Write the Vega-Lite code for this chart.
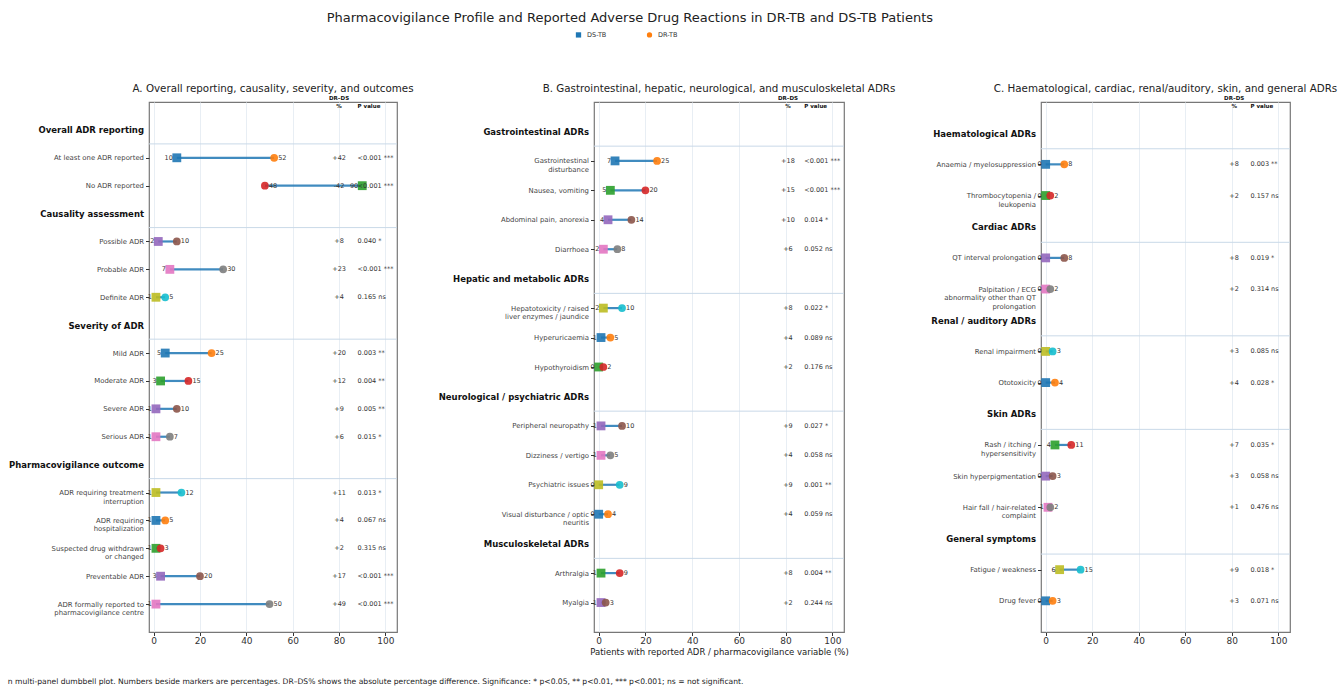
{
  "$schema": "https://vega.github.io/schema/vega-lite/v6.json",
  "background": "white",
  "padding": {"left": 7, "top": 12, "right": 0, "bottom": 0},
  "config": {
    "font": "DejaVu Sans",
    "view": {"stroke": "#777", "strokeWidth": 1.2},
    "title": {"fontWeight": "normal", "color": "#222"}
  },
  "title": {"text": "Pharmacovigilance Profile and Reported Adverse Drug Reactions in DR-TB and DS-TB Patients", "fontSize": 13, "anchor": "middle", "dx": -43, "offset": 6},
  "datasets": {
    "A": [
      {"kind": "h", "label": "Overall ADR reporting"},
      {"kind": "i", "label": "At least one ADR reported", "ds": 10, "dr": 52, "diff": "+42", "p": "<0.001 ***"},
      {"kind": "i", "label": "No ADR reported", "ds": 90, "dr": 48, "diff": "-42", "p": "<0.001 ***"},
      {"kind": "h", "label": "Causality assessment"},
      {"kind": "i", "label": "Possible ADR", "ds": 2, "dr": 10, "diff": "+8", "p": "0.040 *"},
      {"kind": "i", "label": "Probable ADR", "ds": 7, "dr": 30, "diff": "+23", "p": "<0.001 ***"},
      {"kind": "i", "label": "Definite ADR", "ds": 1, "dr": 5, "diff": "+4", "p": "0.165 ns"},
      {"kind": "h", "label": "Severity of ADR"},
      {"kind": "i", "label": "Mild ADR", "ds": 5, "dr": 25, "diff": "+20", "p": "0.003 **"},
      {"kind": "i", "label": "Moderate ADR", "ds": 3, "dr": 15, "diff": "+12", "p": "0.004 **"},
      {"kind": "i", "label": "Severe ADR", "ds": 1, "dr": 10, "diff": "+9", "p": "0.005 **"},
      {"kind": "i", "label": "Serious ADR", "ds": 1, "dr": 7, "diff": "+6", "p": "0.015 *"},
      {"kind": "h", "label": "Pharmacovigilance outcome"},
      {"kind": "i", "label": "ADR requiring treatment\ninterruption", "ds": 1, "dr": 12, "diff": "+11", "p": "0.013 *"},
      {"kind": "i", "label": "ADR requiring\nhospitalization", "ds": 1, "dr": 5, "diff": "+4", "p": "0.067 ns"},
      {"kind": "i", "label": "Suspected drug withdrawn\nor changed", "ds": 1, "dr": 3, "diff": "+2", "p": "0.315 ns"},
      {"kind": "i", "label": "Preventable ADR", "ds": 3, "dr": 20, "diff": "+17", "p": "<0.001 ***"},
      {"kind": "i", "label": "ADR formally reported to\npharmacovigilance centre", "ds": 1, "dr": 50, "diff": "+49", "p": "<0.001 ***"}
    ],
    "B": [
      {"kind": "h", "label": "Gastrointestinal ADRs"},
      {"kind": "i", "label": "Gastrointestinal\ndisturbance", "ds": 7, "dr": 25, "diff": "+18", "p": "<0.001 ***"},
      {"kind": "i", "label": "Nausea, vomiting", "ds": 5, "dr": 20, "diff": "+15", "p": "<0.001 ***"},
      {"kind": "i", "label": "Abdominal pain, anorexia", "ds": 4, "dr": 14, "diff": "+10", "p": "0.014 *"},
      {"kind": "i", "label": "Diarrhoea", "ds": 2, "dr": 8, "diff": "+6", "p": "0.052 ns"},
      {"kind": "h", "label": "Hepatic and metabolic ADRs"},
      {"kind": "i", "label": "Hepatotoxicity / raised\nliver enzymes / jaundice", "ds": 2, "dr": 10, "diff": "+8", "p": "0.022 *"},
      {"kind": "i", "label": "Hyperuricaemia", "ds": 1, "dr": 5, "diff": "+4", "p": "0.089 ns"},
      {"kind": "i", "label": "Hypothyroidism", "ds": 0, "dr": 2, "diff": "+2", "p": "0.176 ns"},
      {"kind": "h", "label": "Neurological / psychiatric ADRs"},
      {"kind": "i", "label": "Peripheral neuropathy", "ds": 1, "dr": 10, "diff": "+9", "p": "0.027 *"},
      {"kind": "i", "label": "Dizziness / vertigo", "ds": 1, "dr": 5, "diff": "+4", "p": "0.058 ns"},
      {"kind": "i", "label": "Psychiatric issues", "ds": 0, "dr": 9, "diff": "+9", "p": "0.001 **"},
      {"kind": "i", "label": "Visual disturbance / optic\nneuritis", "ds": 0, "dr": 4, "diff": "+4", "p": "0.059 ns"},
      {"kind": "h", "label": "Musculoskeletal ADRs"},
      {"kind": "i", "label": "Arthralgia", "ds": 1, "dr": 9, "diff": "+8", "p": "0.004 **"},
      {"kind": "i", "label": "Myalgia", "ds": 1, "dr": 3, "diff": "+2", "p": "0.244 ns"}
    ],
    "C": [
      {"kind": "h", "label": "Haematological ADRs"},
      {"kind": "i", "label": "Anaemia / myelosuppression", "ds": 0, "dr": 8, "diff": "+8", "p": "0.003 **"},
      {"kind": "i", "label": "Thrombocytopenia /\nleukopenia", "ds": 0, "dr": 2, "diff": "+2", "p": "0.157 ns"},
      {"kind": "h", "label": "Cardiac ADRs"},
      {"kind": "i", "label": "QT interval prolongation", "ds": 0, "dr": 8, "diff": "+8", "p": "0.019 *"},
      {"kind": "i", "label": "Palpitation / ECG\nabnormality other than QT\nprolongation", "ds": 0, "dr": 2, "diff": "+2", "p": "0.314 ns"},
      {"kind": "h", "label": "Renal / auditory ADRs"},
      {"kind": "i", "label": "Renal impairment", "ds": 0, "dr": 3, "diff": "+3", "p": "0.085 ns"},
      {"kind": "i", "label": "Ototoxicity", "ds": 0, "dr": 4, "diff": "+4", "p": "0.028 *"},
      {"kind": "h", "label": "Skin ADRs"},
      {"kind": "i", "label": "Rash / itching /\nhypersensitivity", "ds": 4, "dr": 11, "diff": "+7", "p": "0.035 *"},
      {"kind": "i", "label": "Skin hyperpigmentation", "ds": 0, "dr": 3, "diff": "+3", "p": "0.058 ns"},
      {"kind": "i", "label": "Hair fall / hair-related\ncomplaint", "ds": 1, "dr": 2, "diff": "+1", "p": "0.476 ns"},
      {"kind": "h", "label": "General symptoms"},
      {"kind": "i", "label": "Fatigue / weakness", "ds": 6, "dr": 15, "diff": "+9", "p": "0.018 *"},
      {"kind": "i", "label": "Drug fever", "ds": 0, "dr": 3, "diff": "+3", "p": "0.071 ns"}
    ],
    "groups": [{"g": "DS-TB"}, {"g": "DR-TB"}]
  },
  "resolve": {"scale": {"fill": "independent", "stroke": "independent"}},
  "vconcat": [
    {
      "spacing": 197,
      "bounds": "flush",
      "resolve": {"scale": {"fill": "independent", "stroke": "independent"}},
      "title": {"text": "n multi-panel dumbbell plot. Numbers beside markers are percentages. DR\u2013DS% shows the absolute percentage difference. Significance: * p<0.05, ** p<0.01, *** p<0.001; ns = not significant.", "orient": "bottom", "anchor": "start", "fontSize": 7.6, "color": "#222", "offset": 21},
      "hconcat": [
        {
          "width": 248, "height": 530,
          "title": {"text": "A. Overall reporting, causality, severity, and outcomes", "fontSize": 10.3, "anchor": "middle", "offset": 2},
          "data": {"name": "A"},
          "encoding": {
            "y": {"field": "label", "type": "nominal",
              "scale": {"type": "point", "padding": 0, "domain": ["_top", "Overall ADR reporting", "At least one ADR reported", "No ADR reported", "Causality assessment", "Possible ADR", "Probable ADR", "Definite ADR", "Severity of ADR", "Mild ADR", "Moderate ADR", "Severe ADR", "Serious ADR", "Pharmacovigilance outcome", "ADR requiring treatment\ninterruption", "ADR requiring\nhospitalization", "Suspected drug withdrawn\nor changed", "Preventable ADR", "ADR formally reported to\npharmacovigilance centre", "_bot"]},
              "axis": {"title": null, "domain": false, "grid": false, "labelOverlap": false, "labelLimit": 300, "tickSize": 3.5, "tickColor": "#333", "labelPadding": 2, "labelLineHeight": 8.5,
                "labelExpr": "datum.value == '_top' || datum.value == '_bot' ? '' : split(datum.value, '\\n')",
                "labelFontSize": {"condition": {"test": "indexof(['Overall ADR reporting','Causality assessment','Severity of ADR','Pharmacovigilance outcome','Gastrointestinal ADRs','Hepatic and metabolic ADRs','Neurological / psychiatric ADRs','Musculoskeletal ADRs','Haematological ADRs','Cardiac ADRs','Renal / auditory ADRs','Skin ADRs','General symptoms'], datum.value) >= 0", "value": 8.5}, "value": 6.9},
                "labelFontWeight": {"condition": {"test": "indexof(['Overall ADR reporting','Causality assessment','Severity of ADR','Pharmacovigilance outcome','Gastrointestinal ADRs','Hepatic and metabolic ADRs','Neurological / psychiatric ADRs','Musculoskeletal ADRs','Haematological ADRs','Cardiac ADRs','Renal / auditory ADRs','Skin ADRs','General symptoms'], datum.value) >= 0", "value": "bold"}, "value": "normal"},
                "labelColor": {"condition": {"test": "indexof(['Overall ADR reporting','Causality assessment','Severity of ADR','Pharmacovigilance outcome','Gastrointestinal ADRs','Hepatic and metabolic ADRs','Neurological / psychiatric ADRs','Musculoskeletal ADRs','Haematological ADRs','Cardiac ADRs','Renal / auditory ADRs','Skin ADRs','General symptoms'], datum.value) >= 0", "value": "#111"}, "value": "#444"},
                "tickOpacity": {"condition": {"test": "indexof(['_top','_bot','Overall ADR reporting','Causality assessment','Severity of ADR','Pharmacovigilance outcome','Gastrointestinal ADRs','Hepatic and metabolic ADRs','Neurological / psychiatric ADRs','Musculoskeletal ADRs','Haematological ADRs','Cardiac ADRs','Renal / auditory ADRs','Skin ADRs','General symptoms'], datum.value) >= 0", "value": 0}, "value": 1}
              }
            }
          },
          "layer": [
            {"transform": [{"filter": "datum.kind == 'h'"}], "mark": {"type": "rule", "color": "#c9d9e8", "strokeWidth": 1, "yOffset": 14}, "encoding": {}},
            {"transform": [{"filter": "datum.kind == 'i'"}], "mark": {"type": "rule", "color": "#1f77b4", "strokeWidth": 2.2, "opacity": 0.85},
              "encoding": {"x": {"field": "ds", "type": "quantitative", "scale": {"domain": [-2, 105], "nice": false, "zero": false}, "axis": {"values": [0, 20, 40, 60, 80, 100], "grid": true, "gridColor": "#e8eef4", "domain": false, "title": null, "labelFontSize": 9, "labelColor": "#333", "labelPadding": 1, "tickSize": 3.5, "tickColor": "#333"}}, "x2": {"field": "dr"}}},
            {"data": {"name": "groups"}, "mark": {"type": "point", "filled": true, "size": 30, "opacity": 0},
              "encoding": {"x": {"datum": 0, "type": "quantitative"}, "y": {"datum": "_top", "type": "nominal"},
                "color": {"field": "g", "type": "nominal", "scale": {"domain": ["DS-TB", "DR-TB"], "range": ["#1f77b4", "#ff7f0e"]},
                  "legend": {"title": null, "orient": "none", "legendX": 426, "legendY": -71, "direction": "horizontal", "labelFontSize": 6.5, "labelColor": "#333", "symbolSize": 28, "symbolOpacity": 1, "columnPadding": 36, "labelOffset": 5}},
                "shape": {"field": "g", "type": "nominal", "scale": {"domain": ["DS-TB", "DR-TB"], "range": ["square", "circle"]},
                  "legend": {"title": null, "orient": "none", "legendX": 426, "legendY": -71, "direction": "horizontal", "labelFontSize": 6.5, "labelColor": "#333", "symbolSize": 28, "symbolOpacity": 1, "columnPadding": 36, "labelOffset": 5}}}},
            {"transform": [{"filter": "datum.kind == 'i'"}], "mark": {"type": "point", "shape": "square", "filled": true, "size": 78, "opacity": 0.9},
              "encoding": {"x": {"field": "ds", "type": "quantitative"}, "fill": {"field": "label", "type": "nominal", "sort": null, "scale": {"range": ["#1f77b4", "#2ca02c", "#9467bd", "#e377c2", "#bcbd22"]}, "legend": null}}},
            {"transform": [{"filter": "datum.kind == 'i'"}], "mark": {"type": "point", "shape": "circle", "filled": false, "size": 14, "strokeWidth": 4, "opacity": 0.9},
              "encoding": {"x": {"field": "dr", "type": "quantitative"}, "stroke": {"field": "label", "type": "nominal", "sort": null, "scale": {"range": ["#ff7f0e", "#d62728", "#8c564b", "#7f7f7f", "#17becf"]}, "legend": null}}},
            {"transform": [{"filter": "datum.kind == 'i'"}], "mark": {"type": "text", "align": "right", "baseline": "middle", "dx": -4, "fontSize": 6.5, "color": "#333"},
              "encoding": {"x": {"field": "ds", "type": "quantitative"}, "text": {"field": "ds", "type": "quantitative"}}},
            {"transform": [{"filter": "datum.kind == 'i'"}], "mark": {"type": "text", "align": "left", "baseline": "middle", "dx": 4, "fontSize": 6.5, "color": "#333"},
              "encoding": {"x": {"field": "dr", "type": "quantitative"}, "text": {"field": "dr", "type": "quantitative"}}},
            {"transform": [{"filter": "datum.kind == 'i'"}], "mark": {"type": "text", "align": "center", "baseline": "middle", "fontSize": 6.5, "color": "#333"},
              "encoding": {"x": {"datum": 80, "type": "quantitative"}, "text": {"field": "diff", "type": "nominal"}}},
            {"transform": [{"filter": "datum.kind == 'i'"}], "mark": {"type": "text", "align": "left", "baseline": "middle", "fontSize": 6.5, "color": "#333"},
              "encoding": {"x": {"datum": 88, "type": "quantitative"}, "text": {"field": "p", "type": "nominal"}}},
            {"data": {"values": [{}]}, "mark": {"type": "text", "text": "DR\u2013DS", "align": "center", "baseline": "middle", "dy": -4, "fontSize": 5.5, "fontWeight": "bold", "color": "#111"},
              "encoding": {"x": {"datum": 80, "type": "quantitative"}, "y": {"datum": "_top", "type": "nominal"}}},
            {"data": {"values": [{}]}, "mark": {"type": "text", "text": "%", "align": "center", "baseline": "middle", "dy": 4, "fontSize": 5.5, "fontWeight": "bold", "color": "#111"},
              "encoding": {"x": {"datum": 80, "type": "quantitative"}, "y": {"datum": "_top", "type": "nominal"}}},
            {"data": {"values": [{}]}, "mark": {"type": "text", "text": "P value", "align": "left", "baseline": "middle", "dy": 4, "fontSize": 5.5, "fontWeight": "bold", "color": "#111"},
              "encoding": {"x": {"datum": 88, "type": "quantitative"}, "y": {"datum": "_top", "type": "nominal"}}}
          ]
        },
        {
          "width": 250, "height": 530,
          "title": {"text": "B. Gastrointestinal, hepatic, neurological, and musculoskeletal ADRs", "fontSize": 10.3, "anchor": "middle", "offset": 2},
          "data": {"name": "B"},
          "encoding": {
            "y": {"field": "label", "type": "nominal",
              "scale": {"type": "point", "padding": 0, "domain": ["_top", "Gastrointestinal ADRs", "Gastrointestinal\ndisturbance", "Nausea, vomiting", "Abdominal pain, anorexia", "Diarrhoea", "Hepatic and metabolic ADRs", "Hepatotoxicity / raised\nliver enzymes / jaundice", "Hyperuricaemia", "Hypothyroidism", "Neurological / psychiatric ADRs", "Peripheral neuropathy", "Dizziness / vertigo", "Psychiatric issues", "Visual disturbance / optic\nneuritis", "Musculoskeletal ADRs", "Arthralgia", "Myalgia", "_bot"]},
              "axis": {"title": null, "domain": false, "grid": false, "labelOverlap": false, "labelLimit": 300, "tickSize": 3.5, "tickColor": "#333", "labelPadding": 2, "labelLineHeight": 8.5,
                "labelExpr": "datum.value == '_top' || datum.value == '_bot' ? '' : split(datum.value, '\\n')",
                "labelFontSize": {"condition": {"test": "indexof(['Overall ADR reporting','Causality assessment','Severity of ADR','Pharmacovigilance outcome','Gastrointestinal ADRs','Hepatic and metabolic ADRs','Neurological / psychiatric ADRs','Musculoskeletal ADRs','Haematological ADRs','Cardiac ADRs','Renal / auditory ADRs','Skin ADRs','General symptoms'], datum.value) >= 0", "value": 8.5}, "value": 6.9},
                "labelFontWeight": {"condition": {"test": "indexof(['Overall ADR reporting','Causality assessment','Severity of ADR','Pharmacovigilance outcome','Gastrointestinal ADRs','Hepatic and metabolic ADRs','Neurological / psychiatric ADRs','Musculoskeletal ADRs','Haematological ADRs','Cardiac ADRs','Renal / auditory ADRs','Skin ADRs','General symptoms'], datum.value) >= 0", "value": "bold"}, "value": "normal"},
                "labelColor": {"condition": {"test": "indexof(['Overall ADR reporting','Causality assessment','Severity of ADR','Pharmacovigilance outcome','Gastrointestinal ADRs','Hepatic and metabolic ADRs','Neurological / psychiatric ADRs','Musculoskeletal ADRs','Haematological ADRs','Cardiac ADRs','Renal / auditory ADRs','Skin ADRs','General symptoms'], datum.value) >= 0", "value": "#111"}, "value": "#444"},
                "tickOpacity": {"condition": {"test": "indexof(['_top','_bot','Overall ADR reporting','Causality assessment','Severity of ADR','Pharmacovigilance outcome','Gastrointestinal ADRs','Hepatic and metabolic ADRs','Neurological / psychiatric ADRs','Musculoskeletal ADRs','Haematological ADRs','Cardiac ADRs','Renal / auditory ADRs','Skin ADRs','General symptoms'], datum.value) >= 0", "value": 0}, "value": 1}
              }
            }
          },
          "layer": [
            {"transform": [{"filter": "datum.kind == 'h'"}], "mark": {"type": "rule", "color": "#c9d9e8", "strokeWidth": 1, "yOffset": 14.7}, "encoding": {}},
            {"transform": [{"filter": "datum.kind == 'i'"}], "mark": {"type": "rule", "color": "#1f77b4", "strokeWidth": 2.2, "opacity": 0.85},
              "encoding": {"x": {"field": "ds", "type": "quantitative", "scale": {"domain": [-2, 105], "nice": false, "zero": false}, "axis": {"values": [0, 20, 40, 60, 80, 100], "grid": true, "gridColor": "#e8eef4", "domain": false, "title": "Patients with reported ADR / pharmacovigilance variable (%)", "titleFontSize": 8.5, "titleFontWeight": "normal", "titleColor": "#222", "titlePadding": 2, "labelFontSize": 9, "labelColor": "#333", "labelPadding": 1, "tickSize": 3.5, "tickColor": "#333"}}, "x2": {"field": "dr"}}},
            {"transform": [{"filter": "datum.kind == 'i'"}], "mark": {"type": "point", "shape": "square", "filled": true, "size": 78, "opacity": 0.9},
              "encoding": {"x": {"field": "ds", "type": "quantitative"}, "fill": {"field": "label", "type": "nominal", "sort": null, "scale": {"range": ["#1f77b4", "#2ca02c", "#9467bd", "#e377c2", "#bcbd22"]}, "legend": null}}},
            {"transform": [{"filter": "datum.kind == 'i'"}], "mark": {"type": "point", "shape": "circle", "filled": false, "size": 14, "strokeWidth": 4, "opacity": 0.9},
              "encoding": {"x": {"field": "dr", "type": "quantitative"}, "stroke": {"field": "label", "type": "nominal", "sort": null, "scale": {"range": ["#ff7f0e", "#d62728", "#8c564b", "#7f7f7f", "#17becf"]}, "legend": null}}},
            {"transform": [{"filter": "datum.kind == 'i'"}], "mark": {"type": "text", "align": "right", "baseline": "middle", "dx": -4, "fontSize": 6.5, "color": "#333"},
              "encoding": {"x": {"field": "ds", "type": "quantitative"}, "text": {"field": "ds", "type": "quantitative"}}},
            {"transform": [{"filter": "datum.kind == 'i'"}], "mark": {"type": "text", "align": "left", "baseline": "middle", "dx": 4, "fontSize": 6.5, "color": "#333"},
              "encoding": {"x": {"field": "dr", "type": "quantitative"}, "text": {"field": "dr", "type": "quantitative"}}},
            {"transform": [{"filter": "datum.kind == 'i'"}], "mark": {"type": "text", "align": "center", "baseline": "middle", "fontSize": 6.5, "color": "#333"},
              "encoding": {"x": {"datum": 81, "type": "quantitative"}, "text": {"field": "diff", "type": "nominal"}}},
            {"transform": [{"filter": "datum.kind == 'i'"}], "mark": {"type": "text", "align": "left", "baseline": "middle", "fontSize": 6.5, "color": "#333"},
              "encoding": {"x": {"datum": 88, "type": "quantitative"}, "text": {"field": "p", "type": "nominal"}}},
            {"data": {"values": [{}]}, "mark": {"type": "text", "text": "DR\u2013DS", "align": "center", "baseline": "middle", "dy": -4, "fontSize": 5.5, "fontWeight": "bold", "color": "#111"},
              "encoding": {"x": {"datum": 81, "type": "quantitative"}, "y": {"datum": "_top", "type": "nominal"}}},
            {"data": {"values": [{}]}, "mark": {"type": "text", "text": "%", "align": "center", "baseline": "middle", "dy": 4, "fontSize": 5.5, "fontWeight": "bold", "color": "#111"},
              "encoding": {"x": {"datum": 81, "type": "quantitative"}, "y": {"datum": "_top", "type": "nominal"}}},
            {"data": {"values": [{}]}, "mark": {"type": "text", "text": "P value", "align": "left", "baseline": "middle", "dy": 4, "fontSize": 5.5, "fontWeight": "bold", "color": "#111"},
              "encoding": {"x": {"datum": 88, "type": "quantitative"}, "y": {"datum": "_top", "type": "nominal"}}}
          ]
        },
        {
          "width": 249, "height": 530,
          "title": {"text": "C. Haematological, cardiac, renal/auditory, skin, and general ADRs", "fontSize": 10.3, "anchor": "middle", "offset": 2},
          "data": {"name": "C"},
          "encoding": {
            "y": {"field": "label", "type": "nominal",
              "scale": {"type": "point", "padding": 0, "domain": ["_top", "Haematological ADRs", "Anaemia / myelosuppression", "Thrombocytopenia /\nleukopenia", "Cardiac ADRs", "QT interval prolongation", "Palpitation / ECG\nabnormality other than QT\nprolongation", "Renal / auditory ADRs", "Renal impairment", "Ototoxicity", "Skin ADRs", "Rash / itching /\nhypersensitivity", "Skin hyperpigmentation", "Hair fall / hair-related\ncomplaint", "General symptoms", "Fatigue / weakness", "Drug fever", "_bot"]},
              "axis": {"title": null, "domain": false, "grid": false, "labelOverlap": false, "labelLimit": 300, "tickSize": 3.5, "tickColor": "#333", "labelPadding": 2, "labelLineHeight": 8.5,
                "labelExpr": "datum.value == '_top' || datum.value == '_bot' ? '' : split(datum.value, '\\n')",
                "labelFontSize": {"condition": {"test": "indexof(['Overall ADR reporting','Causality assessment','Severity of ADR','Pharmacovigilance outcome','Gastrointestinal ADRs','Hepatic and metabolic ADRs','Neurological / psychiatric ADRs','Musculoskeletal ADRs','Haematological ADRs','Cardiac ADRs','Renal / auditory ADRs','Skin ADRs','General symptoms'], datum.value) >= 0", "value": 8.5}, "value": 6.9},
                "labelFontWeight": {"condition": {"test": "indexof(['Overall ADR reporting','Causality assessment','Severity of ADR','Pharmacovigilance outcome','Gastrointestinal ADRs','Hepatic and metabolic ADRs','Neurological / psychiatric ADRs','Musculoskeletal ADRs','Haematological ADRs','Cardiac ADRs','Renal / auditory ADRs','Skin ADRs','General symptoms'], datum.value) >= 0", "value": "bold"}, "value": "normal"},
                "labelColor": {"condition": {"test": "indexof(['Overall ADR reporting','Causality assessment','Severity of ADR','Pharmacovigilance outcome','Gastrointestinal ADRs','Hepatic and metabolic ADRs','Neurological / psychiatric ADRs','Musculoskeletal ADRs','Haematological ADRs','Cardiac ADRs','Renal / auditory ADRs','Skin ADRs','General symptoms'], datum.value) >= 0", "value": "#111"}, "value": "#444"},
                "tickOpacity": {"condition": {"test": "indexof(['_top','_bot','Overall ADR reporting','Causality assessment','Severity of ADR','Pharmacovigilance outcome','Gastrointestinal ADRs','Hepatic and metabolic ADRs','Neurological / psychiatric ADRs','Musculoskeletal ADRs','Haematological ADRs','Cardiac ADRs','Renal / auditory ADRs','Skin ADRs','General symptoms'], datum.value) >= 0", "value": 0}, "value": 1}
              }
            }
          },
          "layer": [
            {"transform": [{"filter": "datum.kind == 'h'"}], "mark": {"type": "rule", "color": "#c9d9e8", "strokeWidth": 1, "yOffset": 15.6}, "encoding": {}},
            {"transform": [{"filter": "datum.kind == 'i'"}], "mark": {"type": "rule", "color": "#1f77b4", "strokeWidth": 2.2, "opacity": 0.85},
              "encoding": {"x": {"field": "ds", "type": "quantitative", "scale": {"domain": [-2, 105], "nice": false, "zero": false}, "axis": {"values": [0, 20, 40, 60, 80, 100], "grid": true, "gridColor": "#e8eef4", "domain": false, "title": null, "labelFontSize": 9, "labelColor": "#333", "labelPadding": 1, "tickSize": 3.5, "tickColor": "#333"}}, "x2": {"field": "dr"}}},
            {"transform": [{"filter": "datum.kind == 'i'"}], "mark": {"type": "point", "shape": "square", "filled": true, "size": 78, "opacity": 0.9},
              "encoding": {"x": {"field": "ds", "type": "quantitative"}, "fill": {"field": "label", "type": "nominal", "sort": null, "scale": {"range": ["#1f77b4", "#2ca02c", "#9467bd", "#e377c2", "#bcbd22"]}, "legend": null}}},
            {"transform": [{"filter": "datum.kind == 'i'"}], "mark": {"type": "point", "shape": "circle", "filled": false, "size": 14, "strokeWidth": 4, "opacity": 0.9},
              "encoding": {"x": {"field": "dr", "type": "quantitative"}, "stroke": {"field": "label", "type": "nominal", "sort": null, "scale": {"range": ["#ff7f0e", "#d62728", "#8c564b", "#7f7f7f", "#17becf"]}, "legend": null}}},
            {"transform": [{"filter": "datum.kind == 'i'"}], "mark": {"type": "text", "align": "right", "baseline": "middle", "dx": -4, "fontSize": 6.5, "color": "#333"},
              "encoding": {"x": {"field": "ds", "type": "quantitative"}, "text": {"field": "ds", "type": "quantitative"}}},
            {"transform": [{"filter": "datum.kind == 'i'"}], "mark": {"type": "text", "align": "left", "baseline": "middle", "dx": 4, "fontSize": 6.5, "color": "#333"},
              "encoding": {"x": {"field": "dr", "type": "quantitative"}, "text": {"field": "dr", "type": "quantitative"}}},
            {"transform": [{"filter": "datum.kind == 'i'"}], "mark": {"type": "text", "align": "center", "baseline": "middle", "fontSize": 6.5, "color": "#333"},
              "encoding": {"x": {"datum": 81, "type": "quantitative"}, "text": {"field": "diff", "type": "nominal"}}},
            {"transform": [{"filter": "datum.kind == 'i'"}], "mark": {"type": "text", "align": "left", "baseline": "middle", "fontSize": 6.5, "color": "#333"},
              "encoding": {"x": {"datum": 88, "type": "quantitative"}, "text": {"field": "p", "type": "nominal"}}},
            {"data": {"values": [{}]}, "mark": {"type": "text", "text": "DR\u2013DS", "align": "center", "baseline": "middle", "dy": -4, "fontSize": 5.5, "fontWeight": "bold", "color": "#111"},
              "encoding": {"x": {"datum": 81, "type": "quantitative"}, "y": {"datum": "_top", "type": "nominal"}}},
            {"data": {"values": [{}]}, "mark": {"type": "text", "text": "%", "align": "center", "baseline": "middle", "dy": 4, "fontSize": 5.5, "fontWeight": "bold", "color": "#111"},
              "encoding": {"x": {"datum": 81, "type": "quantitative"}, "y": {"datum": "_top", "type": "nominal"}}},
            {"data": {"values": [{}]}, "mark": {"type": "text", "text": "P value", "align": "left", "baseline": "middle", "dy": 4, "fontSize": 5.5, "fontWeight": "bold", "color": "#111"},
              "encoding": {"x": {"datum": 88, "type": "quantitative"}, "y": {"datum": "_top", "type": "nominal"}}}
          ]
        }
      ]
    }
  ]
}
